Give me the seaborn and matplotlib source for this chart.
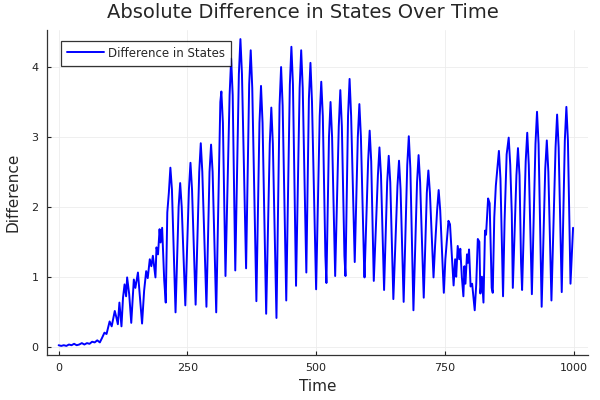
import pandas as pd
import seaborn as sns
from matplotlib import pyplot as plt

# values (peaks, troughs and the noisy start)
time_pts = [0, 5, 10, 15, 20, 25, 30, 35, 40, 45, 50, 55, 60, 65, 70, 75, 80,
            84, 89, 93, 99, 103, 109, 112, 115, 118, 122, 125, 128, 131, 133, 137,
            141, 146, 149, 154, 158, 162, 166, 170, 173, 177, 180, 183, 188, 190,
            193, 196, 198, 201, 205, 208, 211, 214, 217,
            227, 236, 246, 256, 266, 276, 287, 296, 306, 314, 316, 324, 335, 343,
            353, 364, 373, 384, 393, 403, 413, 423, 432, 442, 452, 461, 471, 481,
            489, 500, 510, 518, 520, 528, 537, 547, 555, 557, 565, 575, 584, 593,
            594, 604, 612, 623, 632, 641, 650, 661, 670, 680, 689, 699, 709, 718,
            728, 731, 738, 748, 751, 757, 760, 767, 770, 772, 775, 778, 780, 783,
            786, 788, 790, 793, 795, 797, 800, 803, 808, 811, 814, 817, 819, 822,
            825, 828, 830, 834, 837, 841, 843, 846, 849, 855, 863, 866, 870, 874,
            880, 882, 892, 898, 900, 910, 919, 929, 938, 948, 957, 968, 977, 986,
            994, 999]
diff_vals = [0.02, 0.01, 0.02, 0.01, 0.03, 0.02, 0.04, 0.02, 0.03, 0.05, 0.03, 0.05, 0.04, 0.07, 0.06, 0.09, 0.06,
             0.12, 0.20, 0.18, 0.36, 0.29, 0.51, 0.42, 0.32, 0.63, 0.29, 0.70, 0.89, 0.72, 0.99, 0.75,
             0.34, 0.96, 0.84, 1.06, 0.70, 0.33, 0.80, 1.08, 0.98, 1.25, 1.15, 1.30, 0.99, 1.42,
             1.32, 1.68, 1.49, 1.70, 0.95, 0.63, 1.92, 2.20, 2.56,
             0.49, 2.34, 0.59, 2.63, 0.60, 2.91, 0.57, 2.89, 0.49, 3.50, 3.65, 1.01, 4.12, 1.09,
             4.40, 1.12, 4.24, 0.65, 3.73, 0.47, 3.42, 0.41, 4.00, 0.66, 4.29, 0.87, 4.24, 1.06,
             4.06, 0.82, 3.79, 1.30, 0.91, 3.50, 1.01, 3.67, 1.30, 1.01, 3.83, 1.21, 3.47, 1.20,
             0.99, 3.09, 0.94, 2.85, 0.81, 2.73, 0.68, 2.66, 0.64, 3.01, 0.52, 2.74, 0.70, 2.52,
             0.99, 1.44, 2.24, 0.77, 1.25, 1.80, 1.75, 0.875, 1.25, 1.00, 1.44, 1.25, 1.40, 1.00,
             0.72, 1.15, 0.90, 1.32, 1.20, 1.39, 0.86, 0.90, 0.52, 0.90, 1.54, 1.50, 0.76, 1.00,
             0.63, 1.66, 1.60, 2.12, 2.05, 0.84, 0.77, 1.85, 2.30, 2.80, 0.72, 1.80, 2.75, 2.99,
             1.90, 0.84, 2.84, 1.20, 0.81, 3.06, 0.75, 3.36, 0.57, 2.95, 0.66, 3.32, 0.78, 3.43,
             0.90, 1.70]

# shoulders either side of the rounded peaks
shoulder_t = [220, 233, 239, 253, 259, 273, 279, 293, 299, 319, 332, 338, 350, 356,
              370, 376, 390, 396, 410, 416, 429, 435, 449, 455, 468, 474, 486, 492,
              507, 513, 525, 531, 544, 550, 562, 568, 581, 587, 601, 607, 620, 626,
              638, 644, 658, 664, 677, 683, 696, 702, 715, 721, 735, 741, 852, 858,
              877, 889, 895, 907, 913, 926, 932, 945, 951, 965, 971, 983, 989]
shoulder_v = [2.25, 2.00, 2.00, 2.25, 2.25, 2.50, 2.50, 2.50, 2.50, 3.20, 3.60, 3.60, 3.90, 3.90,
              3.75, 3.70, 3.20, 3.20, 2.90, 2.90, 3.45, 3.45, 3.75, 3.75, 3.70, 3.70, 3.55, 3.50,
              3.30, 3.30, 3.00, 3.00, 3.15, 3.15, 3.30, 3.30, 3.00, 3.00, 2.65, 2.65, 2.45, 2.45,
              2.35, 2.35, 2.30, 2.25, 2.60, 2.55, 2.35, 2.35, 2.20, 2.20, 1.95, 1.95, 2.55, 2.40,
              2.60, 2.45, 2.45, 2.65, 2.60, 2.90, 2.90, 2.55, 2.50, 2.85, 2.85, 2.95, 2.95]

x_ticks = [0, 250, 500, 750, 1000]
y_ticks = [0, 1, 2, 3, 4]

df = pd.concat([pd.DataFrame({'Time': time_pts, 'Difference': diff_vals}),
                pd.DataFrame({'Time': shoulder_t, 'Difference': shoulder_v})])
df = df.sort_values('Time').reset_index(drop=True)

sns.set_style('white')
fig = plt.figure(figsize=(6, 4), dpi=100)
ax = fig.add_axes([0.078, 0.1125, 0.902, 0.8125])

sns.lineplot(data=df, x='Time', y='Difference', ax=ax, color='#0000ff', linewidth=1.4,
             estimator=None, sort=False, label='Difference in States')

ax.set_xlim(-23, 1028)
ax.set_ylim(-0.12, 4.53)
ax.set_xticks(x_ticks)
ax.set_yticks(y_ticks)
ax.grid(True, color='#ececec', linewidth=0.6)
ax.tick_params(direction='in', length=3, labelsize=8, colors='#222222', pad=6,
               bottom=True, left=True)
for side in ['top', 'right']:
    ax.spines[side].set_visible(False)
for side in ['left', 'bottom']:
    ax.spines[side].set_color('#333333')
    ax.spines[side].set_linewidth(0.9)

ax.set_xlabel('Time', fontsize=11)
ax.set_ylabel('Difference', fontsize=11, labelpad=8)
# title is centred on the whole figure, as in the reference
fig.text(0.505, 0.968, 'Absolute Difference in States Over Time', fontsize=14,
         ha='center', va='center')

leg = ax.legend(loc='upper left', bbox_to_anchor=(0.027, 0.965), borderaxespad=0,
                fontsize=8.5, frameon=True, fancybox=False, borderpad=0.5,
                handlelength=3.1, handleheight=1.2, handletextpad=0.35)
leg.get_frame().set_edgecolor('black')
leg.get_frame().set_linewidth(0.9)

plt.savefig('out.png', dpi=100)
plt.close()
